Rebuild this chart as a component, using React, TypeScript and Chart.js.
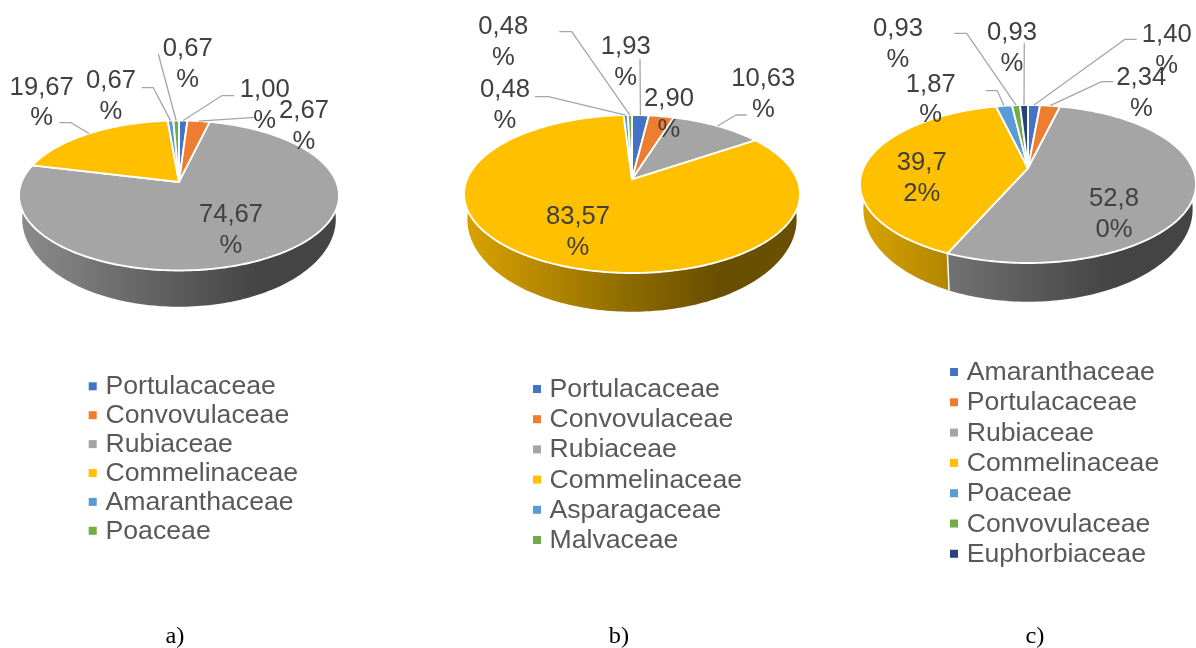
import React, { useEffect, useRef } from "react";
import { Chart, registerables } from "chart.js";

Chart.register(...registerables);

// Family shares, in percent, for each of the three sites.
const categoriesA = ["Portulacaceae", "Convovulaceae", "Rubiaceae", "Commelinaceae", "Amaranthaceae", "Poaceae"];
const valuesA = [1.0, 2.67, 74.67, 19.67, 0.67, 0.67];
const coloursA = ["#4472C4", "#ED7D31", "#A5A5A5", "#FFC000", "#5B9BD5", "#70AD47"];

const categoriesB = ["Portulacaceae", "Convovulaceae", "Rubiaceae", "Commelinaceae", "Asparagaceae", "Malvaceae"];
const valuesB = [1.93, 2.9, 10.63, 83.57, 0.48, 0.48];
const coloursB = ["#4472C4", "#ED7D31", "#A5A5A5", "#FFC000", "#5B9BD5", "#70AD47"];

const categoriesC = ["Amaranthaceae", "Portulacaceae", "Rubiaceae", "Commelinaceae", "Poaceae", "Convovulaceae", "Euphorbiaceae"];
const valuesC = [1.4, 2.34, 52.8, 39.72, 1.87, 0.93, 0.93];
const coloursC = ["#4472C4", "#ED7D31", "#A5A5A5", "#FFC000", "#5B9BD5", "#70AD47", "#264478"];

type Disc = { cx: number; cy: number; rx: number; ry: number; tilt: number; depth: number };
type Callout = { x: number; y: number; split?: number; leader?: number[][] };
type LegendBox = { boxX: number; textX: number; firstBaseline: number; rowGap: number };
type PanelSpec = {
  categories: string[];
  values: number[];
  colours: string[];
  disc: Disc;
  callouts: Callout[];
  legend: LegendBox;
  caption: string;
  captionX: number;
};

const panelA: PanelSpec = {
  categories: categoriesA,
  values: valuesA,
  colours: coloursA,
  disc: { cx: 179, cy: 195.5, rx: 160, ry: 75, tilt: 0.18, depth: 23.5 },
  callouts: [
    { x: 264.7, y: 97, leader: [[234, 95.7], [221.7, 95.7]] },
    { x: 304, y: 118, leader: [[255, 117.3]] },
    { x: 231, y: 222 },
    { x: 41.7, y: 94.5, leader: [[59.3, 122.7], [71, 122.7]] },
    { x: 111, y: 88.3, leader: [[141.7, 87.7], [153.3, 87.7]] },
    { x: 187.7, y: 56, leader: [[158.3, 54]] },
  ],
  legend: { boxX: 88.7, textX: 105.5, firstBaseline: 394.3, rowGap: 28.9 },
  caption: "a)",
  captionX: 175,
};

const panelB: PanelSpec = {
  categories: categoriesB,
  values: valuesB,
  colours: coloursB,
  disc: { cx: 632, cy: 194, rx: 168, ry: 79, tilt: 0.186, depth: 25.3 },
  callouts: [
    { x: 625.7, y: 54, leader: [[640, 59.3]] },
    { x: 669, y: 106 },
    { x: 763.3, y: 86, leader: [[746.7, 115], [736, 115]] },
    { x: 578, y: 224 },
    { x: 505, y: 97.3, leader: [[535, 96.7], [548.3, 96.7]] },
    { x: 503.3, y: 34, leader: [[559.3, 31.7], [571.7, 31.7]] },
  ],
  legend: { boxX: 533, textX: 549.5, firstBaseline: 397, rowGap: 30.2 },
  caption: "b)",
  captionX: 619,
};

const panelC: PanelSpec = {
  categories: categoriesC,
  values: valuesC,
  colours: coloursC,
  disc: { cx: 1028, cy: 184, rx: 168, ry: 79, tilt: 0.2, depth: 25.3 },
  callouts: [
    { x: 1166.7, y: 42, leader: [[1136.7, 39.3], [1125, 39.3]] },
    { x: 1141.3, y: 85, leader: [[1113.3, 81.7], [1101.7, 81.7]] },
    { x: 1114, y: 206, split: 4 },
    { x: 921.7, y: 170, split: 4 },
    { x: 930.7, y: 91.7, leader: [[985.7, 90.7], [997.3, 90.7]] },
    { x: 898, y: 36, leader: [[954.3, 33.3], [966.7, 33.3]] },
    { x: 1012, y: 40, leader: [[1024.3, 43.3]] },
  ],
  legend: { boxX: 950, textX: 966.7, firstBaseline: 380, rowGap: 30.3 },
  caption: "c)",
  captionX: 1035,
};

const panels = [panelA, panelB, panelC];

const SANS = '"Liberation Sans", Arial, sans-serif';
const SERIF = '"Liberation Serif", "Times New Roman", serif';

// Maps an angle on the pie to the tilted disc; the hub sits behind the ellipse centre
// so near wedges look larger, as they do in a pie seen in perspective. The lower rim
// of the wall is a slightly narrower, rounder ellipse.
function project(d: Disc, angle: number, lower = false) {
  const u = Math.cos(angle);
  const v = -Math.sin(angle);
  const k = 1 + d.tilt * v;
  const su = (u * Math.sqrt(1 - d.tilt * d.tilt)) / k;
  const sv = (v + d.tilt) / k;
  return {
    x: d.cx + d.rx * (lower ? 0.98 : 1) * su,
    y: d.cy + (lower ? d.depth : 0) - d.ry * (lower ? 1.17 : 1) * sv,
  };
}

function hub(d: Disc) {
  return { x: d.cx, y: d.cy - d.ry * d.tilt };
}

function shade(hex: string, f: number) {
  const n = parseInt(hex.slice(1), 16);
  const ch = (s: number) => Math.round(((n >> s) & 255) * f);
  return `rgb(${ch(16)},${ch(8)},${ch(0)})`;
}

function rimPoints(d: Disc, a0: number, a1: number, lower = false) {
  const steps = Math.max(2, Math.ceil(Math.abs(a1 - a0) / 0.02));
  const pts = [];
  for (let i = 0; i <= steps; i++) pts.push(project(d, a0 + ((a1 - a0) * i) / steps, lower));
  return pts;
}

function stretchedText(ctx: CanvasRenderingContext2D, text: string, x: number, y: number, sx: number) {
  ctx.save();
  ctx.translate(x, y);
  ctx.scale(sx, 1);
  ctx.fillText(text, 0, 0);
  ctx.restore();
}

function calloutLines(value: number, split?: number) {
  const s = value.toFixed(2).replace(".", ",") + "%";
  const at = split ?? s.length - 1;
  return [s.slice(0, at), s.slice(at)];
}

function drawPanel(chart: any, spec: PanelSpec) {
  const ctx: CanvasRenderingContext2D = chart.ctx;
  const d = spec.disc;
  const arcs = chart.getDatasetMeta(0).data;

  // Extruded wall below the rim
  arcs.forEach((arc: any) => {
    const colour = arc.options.backgroundColor as string;
    const grad = ctx.createLinearGradient(d.cx - d.rx, 0, d.cx + d.rx, 0);
    grad.addColorStop(0, shade(colour, 0.85));
    grad.addColorStop(0.5, shade(colour, 0.55));
    grad.addColorStop(0.75, shade(colour, 0.41));
    grad.addColorStop(1, shade(colour, 0.41));
    const top = rimPoints(d, arc.startAngle, arc.endAngle);
    const low = rimPoints(d, arc.endAngle, arc.startAngle, true);
    ctx.beginPath();
    [...top, ...low].forEach((p, i) => (i ? ctx.lineTo(p.x, p.y) : ctx.moveTo(p.x, p.y)));
    ctx.closePath();
    ctx.fillStyle = grad;
    ctx.fill();
  });

  // Seams where two wedges meet on the visible part of the wall
  arcs.forEach((arc: any) => {
    if (Math.sin(arc.startAngle) <= 0) return;
    const a = project(d, arc.startAngle);
    const b = project(d, arc.startAngle, true);
    ctx.beginPath();
    ctx.moveTo(a.x, a.y);
    ctx.lineTo(b.x, b.y);
    ctx.strokeStyle = "#ffffff";
    ctx.lineWidth = 1.5;
    ctx.stroke();
  });

  // Top face
  const h = hub(d);
  arcs.forEach((arc: any) => {
    ctx.beginPath();
    ctx.moveTo(h.x, h.y);
    rimPoints(d, arc.startAngle, arc.endAngle).forEach((p) => ctx.lineTo(p.x, p.y));
    ctx.closePath();
    ctx.fillStyle = arc.options.backgroundColor;
    ctx.fill();
    ctx.lineJoin = "round";
    ctx.strokeStyle = "#ffffff";
    ctx.lineWidth = 1.9;
    ctx.stroke();
  });

  // Leader lines run from each label to the middle of its wedge's rim
  spec.callouts.forEach((c, i) => {
    if (!c.leader) return;
    const arc = arcs[i];
    const end = project(d, (arc.startAngle + arc.endAngle) / 2);
    ctx.beginPath();
    c.leader.forEach(([x, y], k) => (k ? ctx.lineTo(x, y) : ctx.moveTo(x, y)));
    ctx.lineTo(end.x, end.y);
    ctx.strokeStyle = "#a6a6a6";
    ctx.lineWidth = 1.3;
    ctx.stroke();
  });

  // Value labels
  ctx.font = `25.4px ${SANS}`;
  ctx.fillStyle = "#404040";
  ctx.textAlign = "center";
  ctx.textBaseline = "alphabetic";
  spec.callouts.forEach((c, i) => {
    calloutLines(spec.values[i], c.split).forEach((line, k) => {
      stretchedText(ctx, line, c.x, c.y + k * 30.6, 1.01);
    });
  });

  // Legend
  const lg = spec.legend;
  ctx.textAlign = "left";
  ctx.font = `25.5px ${SANS}`;
  spec.categories.forEach((name, i) => {
    const base = lg.firstBaseline + i * lg.rowGap;
    ctx.fillStyle = spec.colours[i];
    ctx.fillRect(lg.boxX, base - 12, 8, 8);
    ctx.fillStyle = "#595959";
    stretchedText(ctx, name, lg.textX, base, 1.045);
  });

  // Panel letter
  ctx.textAlign = "center";
  ctx.fillStyle = "#000000";
  ctx.font = `23px ${SERIF}`;
  stretchedText(ctx, spec.caption, spec.captionX, 643, 1.06);
}

function Panel({ spec }: { spec: PanelSpec }) {
  const ref = useRef<HTMLCanvasElement>(null);
  useEffect(() => {
    const chart = new Chart(ref.current!, {
      type: "pie",
      data: {
        labels: spec.categories,
        datasets: [{ data: spec.values, backgroundColor: spec.colours }],
      },
      options: {
        responsive: false,
        animation: false,
        plugins: { legend: { display: false }, tooltip: { enabled: false } },
      },
      plugins: [
        {
          id: "tiltedPie",
          beforeDatasetsDraw(c: any) {
            drawPanel(c, spec);
            return false;
          },
        },
      ],
    } as any);
    return () => chart.destroy();
  }, [spec]);
  return (
    <canvas
      ref={ref}
      width={1196}
      height={648}
      style={{ position: "absolute", left: 0, top: 0, width: 1196, height: 648 }}
    />
  );
}

export default function App() {
  return (
    <div style={{ position: "fixed", inset: 0, overflow: "hidden", background: "#ffffff" }}>
      {panels.map((p) => (
        <Panel key={p.caption} spec={p} />
      ))}
    </div>
  );
}
